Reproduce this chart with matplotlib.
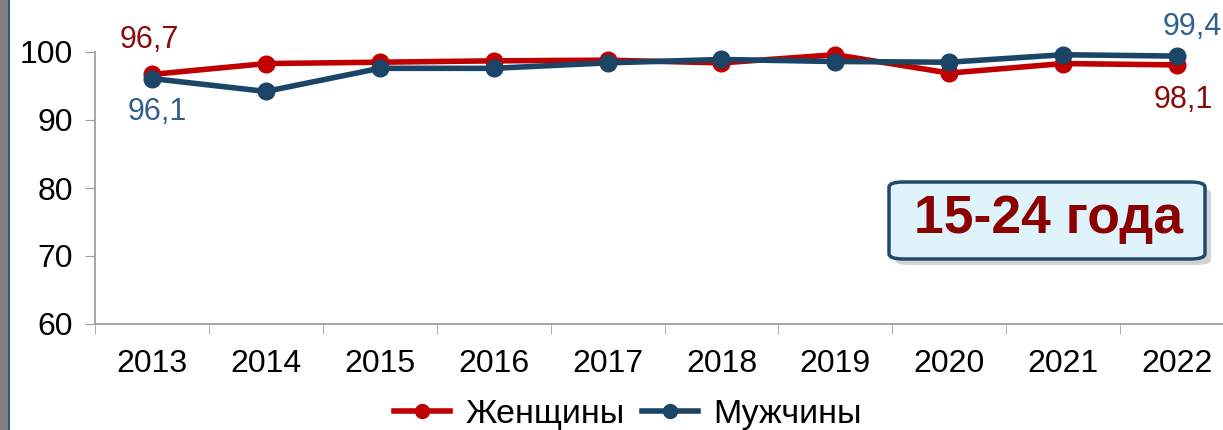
import matplotlib.pyplot as plt
from matplotlib.patches import FancyBboxPatch, Rectangle
from matplotlib.lines import Line2D

plt.rcParams['font.family'] = ['Liberation Sans', 'DejaVu Sans']

# data
years = ["2013", "2014", "2015", "2016", "2017", "2018", "2019", "2020", "2021", "2022"]
women = [96.7, 98.3, 98.5, 98.7, 98.8, 98.4, 99.6, 96.9, 98.3, 98.1]
men = [96.1, 94.2, 97.6, 97.6, 98.4, 98.9, 98.6, 98.5, 99.6, 99.4]
y_ticks = [60, 70, 80, 90, 100]

RED = "#C00000"
BLUE = "#1B4566"
RED_LBL = "#8B0A0A"
BLUE_LBL = "#2F5F8A"

fig = plt.figure(figsize=(12.23, 4.30), dpi=100)

# slide edge on the left
fig.patches.append(Rectangle((0, 0), 8 / 1223, 1, transform=fig.transFigure,
                             facecolor="#7F7F7F", edgecolor="none"))
fig.patches.append(Rectangle((8 / 1223, 0), 2 / 1223, 1, transform=fig.transFigure,
                             facecolor="#2E5A86", edgecolor="none"))

ax = fig.add_axes([95 / 1223, 106 / 430, 1139 / 1223, 272 / 430])
x = list(range(len(years)))

ax.plot(x, women, color=RED, lw=4, marker="o", ms=12, clip_on=False, zorder=3)
ax.plot(x, men, color=BLUE, lw=4, marker="o", ms=12, clip_on=False, zorder=4)

ax.set_xlim(-0.5, len(years) - 0.5)
ax.set_ylim(60, 100)
ax.set_yticks(y_ticks)
ax.set_yticklabels([str(v) for v in y_ticks], fontsize=23)
ax.set_xticks(x)
ax.set_xticklabels(years, fontsize=23)
ax.set_xticks([i - 0.5 for i in range(len(years) + 1)], minor=True)
ax.tick_params(axis="x", which="major", length=0, pad=18)
ax.tick_params(axis="x", which="minor", length=7, color="#A0A0A0")
ax.tick_params(axis="y", length=7, color="#A0A0A0", pad=9)
for s in ["top", "right"]:
    ax.spines[s].set_visible(False)
for s in ["left", "bottom"]:
    ax.spines[s].set_color("#A0A0A0")
    ax.spines[s].set_linewidth(1.3)

# data labels
fmt = lambda v: f"{v:.1f}".replace(".", ",")
ax.annotate(fmt(women[0]), (0, women[0]), xytext=(-2, 24.5), textcoords="offset points",
            ha="center", va="center", fontsize=22, color=RED_LBL)
ax.annotate(fmt(men[0]), (0, men[0]), xytext=(3.6, -24), textcoords="offset points",
            ha="center", va="center", fontsize=22, color=BLUE_LBL)
ax.annotate(fmt(men[-1]), (9, men[-1]), xytext=(11, 21), textcoords="offset points",
            ha="center", va="center", fontsize=22, color=BLUE_LBL)
ax.annotate(fmt(women[-1]), (9, women[-1]), xytext=(4.3, -25), textcoords="offset points",
            ha="center", va="center", fontsize=22, color=RED_LBL)

# label box
fig.patches.append(FancyBboxPatch((895 / 1223, 165 / 430), 316 / 1223, 77 / 430,
                                  boxstyle="round,pad=0,rounding_size=0.012",
                                  transform=fig.transFigure, facecolor="#A8A8A8",
                                  edgecolor="none", alpha=0.5, zorder=5))
fig.patches.append(FancyBboxPatch((889 / 1223, 171 / 430), 316 / 1223, 77 / 430,
                                  boxstyle="round,pad=0,rounding_size=0.012",
                                  transform=fig.transFigure, facecolor="#DFF3FA",
                                  edgecolor="#1F4A6E", lw=2.5, zorder=6))
fig.text(1049 / 1223, 211 / 430, "15-24 года", ha="center", va="center",
         fontsize=38.5, fontweight="bold", color="#8B0000", zorder=7)

# legend
handles = [Line2D([], [], color=RED, lw=4, marker="o", ms=10),
           Line2D([], [], color=BLUE, lw=4, marker="o", ms=10)]
fig.legend(handles, ["Женщины", "Мужчины"], loc="center", bbox_to_anchor=(628 / 1223, 16 / 430),
           ncol=2, frameon=False, fontsize=24.5, handlelength=1.65, columnspacing=0.5,
           handletextpad=0.45)

fig.savefig("out.png", dpi=100)
